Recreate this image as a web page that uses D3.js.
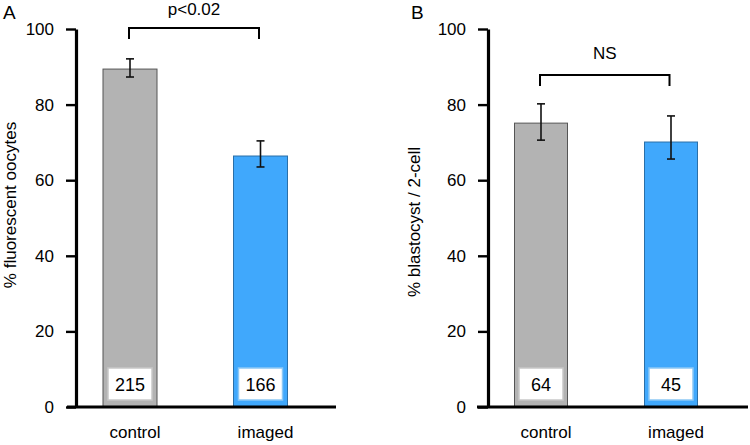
<!DOCTYPE html>
<html><head><meta charset="utf-8">
<script src="https://cdn.jsdelivr.net/npm/d3@7"></script>
<style>
body{margin:0;background:#fff;}
text{font-family:"Liberation Sans",Arial,sans-serif;fill:#000;}
</style></head>
<body><svg id="c" width="750" height="445"></svg>
<script>
const categories = ["control", "imaged"];
const panelLetters = ["A", "B"];
const yLabels = ["% fluorescent oocytes", "% blastocyst / 2-cell"];
const valuesA = [89.4, 66.4];
const errLowA = [87.3, 63.5];
const errHighA = [92.1, 70.4];
const countsA = ["215", "166"];
const valuesB = [75.1, 70.1];
const errLowB = [70.6, 65.6];
const errHighB = [80.2, 77.0];
const countsB = ["64", "45"];
const sigLabels = ["p<0.02", "NS"];
const yTicks = [0, 20, 40, 60, 80, 100];
const colors = ["#b3b3b3", "#40a8fc"];
const strokes = ["#555555", "#2a6fa8"];
const boxStrokes = ["#c8c8c8", "#8cc8f5"];

const svg = d3.select("#c");
const y = d3.scaleLinear().domain([0, 100]).range([407, 29]);

const panels = [
  {letter: panelLetters[0], yl: yLabels[0], vals: valuesA, lo: errLowA, hi: errHighA, n: countsA, sig: sigLabels[0],
   axisX: 76, xEnd: 336, xStart: 67, centers: [130, 260.5], bw: 54, letterX: 3, ylX: 16, ylY: 205,
   br: {y: 28, h: 11, textY: 15}},
  {letter: panelLetters[1], yl: yLabels[1], vals: valuesB, lo: errLowB, hi: errHighB, n: countsB, sig: sigLabels[1],
   axisX: 488, xEnd: 748, xStart: 477, centers: [541, 671], bw: 53, letterX: 411, ylX: 420, ylY: 222,
   br: {y: 75, h: 11, textY: 59}}
];

panels.forEach(p => {
  const g = svg.append("g");
  const x = d3.scalePoint().domain(categories).range(p.centers);

  // bars
  g.selectAll("rect.bar").data(categories).enter().append("rect")
    .attr("x", d => x(d) - p.bw / 2)
    .attr("y", (d, i) => y(p.vals[i]))
    .attr("width", p.bw)
    .attr("height", (d, i) => y(0) - y(p.vals[i]))
    .attr("fill", (d, i) => colors[i])
    .attr("stroke", (d, i) => strokes[i])
    .attr("stroke-width", 1);

  // count boxes
  g.selectAll("rect.box").data(categories).enter().append("rect")
    .attr("x", d => x(d) - 22)
    .attr("y", 368)
    .attr("width", 44)
    .attr("height", 32)
    .attr("fill", "#fff")
    .attr("stroke", (d, i) => boxStrokes[i])
    .attr("stroke-width", 1.5);
  g.selectAll("text.cnt").data(categories).enter().append("text")
    .attr("x", d => x(d))
    .attr("y", 391)
    .attr("text-anchor", "middle")
    .attr("font-size", 18)
    .text((d, i) => p.n[i]);

  // error bars
  categories.forEach((d, i) => {
    const cx = x(d);
    g.append("line").attr("x1", cx).attr("x2", cx).attr("y1", y(p.lo[i])).attr("y2", y(p.hi[i]))
      .attr("stroke", "#111").attr("stroke-width", 1.6);
    [p.lo[i], p.hi[i]].forEach(v => {
      g.append("line").attr("x1", cx - 4).attr("x2", cx + 4).attr("y1", y(v)).attr("y2", y(v))
        .attr("stroke", "#111").attr("stroke-width", 1.6);
    });
  });

  // y axis
  const ax = g.append("g").attr("transform", `translate(${p.axisX},0)`)
    .call(d3.axisLeft(y).tickValues(yTicks).tickSize(10).tickPadding(12).tickSizeOuter(0));
  ax.select(".domain").attr("stroke", "#000").attr("stroke-width", 3.2);
  ax.selectAll(".tick line").attr("stroke", "#000").attr("stroke-width", 2.4);
  ax.selectAll(".tick text").attr("font-size", 17).attr("font-family", "'Liberation Sans',Arial,sans-serif").attr("fill", "#000");

  // x axis line
  g.append("line").attr("x1", p.xStart).attr("x2", p.xEnd).attr("y1", y(0)).attr("y2", y(0))
    .attr("stroke", "#000").attr("stroke-width", 3.2);

  // x labels
  g.selectAll("text.xl").data(categories).enter().append("text")
    .attr("x", d => x(d) + 5)
    .attr("y", 438)
    .attr("text-anchor", "middle")
    .attr("font-size", 17)
    .text(d => d);

  // y label
  g.append("text")
    .attr("transform", `translate(${p.ylX},${p.ylY}) rotate(-90)`)
    .attr("text-anchor", "middle")
    .attr("font-size", 17)
    .text(p.yl);

  // panel letter
  g.append("text").attr("x", p.letterX).attr("y", 19).attr("font-size", 19).text(p.letter);

  // significance bracket
  const x1 = p.centers[0] - 1, x2 = p.centers[1] - 1.5;
  g.append("path")
    .attr("d", `M${x1},${p.br.y + p.br.h}V${p.br.y}H${x2}V${p.br.y + p.br.h}`)
    .attr("fill", "none").attr("stroke", "#000").attr("stroke-width", 2);
  g.append("text").attr("x", (x1 + x2) / 2).attr("y", p.br.textY)
    .attr("text-anchor", "middle").attr("font-size", 17).text(p.sig);
});
</script></body></html>
